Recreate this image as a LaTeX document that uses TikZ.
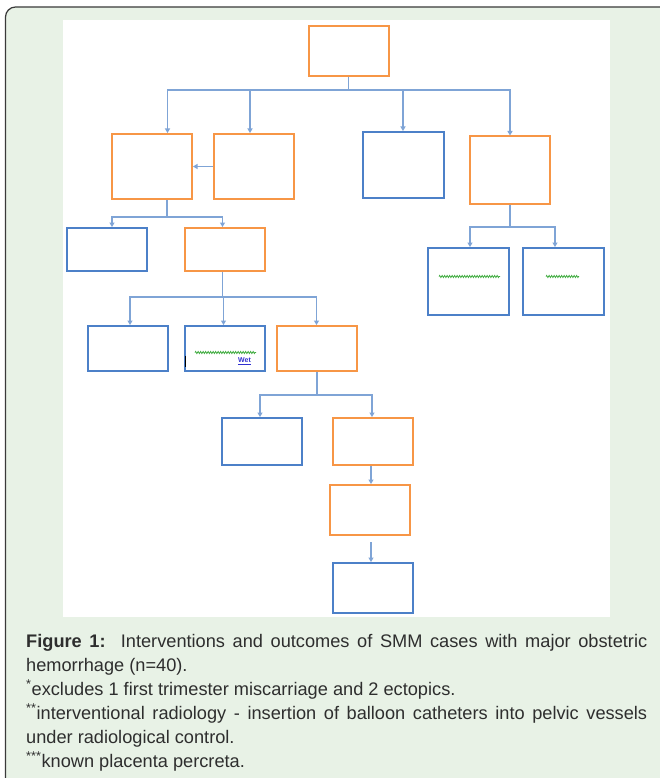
\documentclass[tikz,border=0pt]{standalone}
\usepackage{fontspec}
\setmainfont{Liberation Sans}
\usepackage{xcolor}
\usepackage{tikz}
\usetikzlibrary{arrows.meta, positioning, decorations.pathmorphing}
\definecolor{panel}{HTML}{E8F2E6}
\definecolor{rim}{HTML}{3A3A3A}
\definecolor{tangerine}{HTML}{F79646}
\definecolor{steel}{HTML}{4C80C8}
\definecolor{wire}{HTML}{7FA4D6}
\definecolor{spell}{HTML}{3DAA3D}
\definecolor{ink}{HTML}{2E2E2E}
\definecolor{hyper}{HTML}{3030D0}
\setlength{\parindent}{0pt}
\tikzset{
	obox/.style={draw=tangerine, line width=2pt, minimum width=80pt, inner sep=0pt},
	bbox/.style={draw=steel, line width=2pt, minimum width=80pt, inner sep=0pt},
	arr/.style={-{Triangle[length=4.5pt, width=5pt]}, line width=1.1pt, wire},
	squig/.style={spell, line width=0.8pt, decorate,
		decoration={zigzag, segment length=2.5pt, amplitude=1pt}},
}

\begin{document}
\begin{tikzpicture}[x=1pt, y=-1pt]
				\useasboundingbox (0,0) rectangle (660,778);
				\clip (0,0) rectangle (660,778);
				\filldraw[fill=panel, draw=rim, line width=1.2pt, rounded corners=10pt] (5.5,7) rectangle (700,820);
				\fill[white] (63,20) rectangle (610,617);
				\node[obox, minimum height=50pt] (root) at (348.5,51) {};
				\node[obox, minimum height=65pt] (b1) at (152,166.5) {};
				\node[obox, minimum height=65pt, right=20pt of b1] (b2) {};
				\node[bbox, minimum width=81pt, minimum height=66pt] (b3) at (403.5,165) {};
				\node[obox, minimum height=67pt] (b4) at (510,170) {};
				\node[bbox, minimum height=43pt] (c1) at (107,249.5) {};
				\node[obox, minimum height=43pt, right=36pt of c1] (c2) {};
				\node[bbox, minimum width=81pt, minimum height=67pt] (d1) at (468.5,281.5) {};
				\node[bbox, minimum width=81pt, minimum height=67pt, right=12pt of d1] (d2) {};
				\node[bbox, minimum height=45pt] (e1) at (128,348.5) {};
				\node[bbox, minimum height=45pt, right=15pt of e1] (e2) {};
				\node[obox, minimum height=45pt, right=10pt of e2] (e3) {};
				\node[bbox, minimum height=47pt] (f1) at (262,441.5) {};
				\node[obox, minimum height=47pt, right=29pt of f1] (f2) {};
				\node[obox, minimum height=50pt, below=18pt of f2, xshift=-3pt] (g1) {};
				\node[bbox, minimum height=50pt, below=26pt of g1, xshift=3pt] (h1) {};
				\foreach \c/\dx in {b1/15.5, b2/-4, b3/-0.5, b4/0}
				\draw[arr] (root.south) -- ++(0,13) -| ([xshift=\dx pt]\c.north);
				\draw[arr] (b2.west) -- (b1.east);
				\foreach \c/\dx in {c1/5, c2/-2.5}
				\draw[arr] ([xshift=15pt]b1.south) -- ++(0,17) -| ([xshift=\dx pt]\c.north);
				\foreach \c/\dx in {d1/1.5, d2/-8.5}
				\draw[arr] (b4.south) -- ++(0,22.5) -| ([xshift=\dx pt]\c.north);
				\foreach \c/\dx in {e1/2, e2/-1.5, e3/-0.5}
				\draw[arr] ([xshift=-2.5pt]c2.south) -- ++(0,25) -| ([xshift=\dx pt]\c.north);
				\foreach \c/\dx in {f1/-2, f2/-1}
				\draw[arr] (e3.south) -- ++(0,23) -| ([xshift=\dx pt]\c.north);
				\draw[arr] ([xshift=-2pt]f2.south) -- ([xshift=1pt]g1.north);
				\draw[arr, shorten <=6pt] ([xshift=1pt]g1.south) -- ([xshift=-2pt]h1.north);
				\draw[squig] ([xshift=-29.5pt,yshift=5pt]d1.center) -- ++(61,0);
				\draw[squig] ([xshift=-17.5pt,yshift=5pt]d2.center) -- ++(33,0);
				\draw[squig] ([xshift=-30pt,yshift=-4pt]e2.center) -- ++(61,0);
				\node[text=hyper, font=\fontsize{7}{8}\selectfont\bfseries, inner sep=0pt] (wet) at ([xshift=19.5pt,yshift=-12.5pt]e2.center) {\underline{Wet}};
				\draw[line width=1.3pt] ([xshift=1.5pt,yshift=-7pt]e2.west) -- ++(0,11);
				\node[anchor=base west, text width=621pt, align=justify, inner sep=0pt, text=ink, font=\fontsize{18.2}{24}\selectfont] (caption) at (26,647)
				{\textbf{Figure 1:}\ \ Interventions and outcomes of SMM cases with major obstetric\linebreak hemorrhage (n=40).\par
				\textsuperscript{*}excludes 1 first trimester miscarriage and 2 ectopics.\par
				\textsuperscript{**}interventional radiology - insertion of balloon catheters into pelvic vessels\linebreak under radiological control.\par
				\textsuperscript{***}known placenta percreta.};
			\end{tikzpicture}
\end{document}
